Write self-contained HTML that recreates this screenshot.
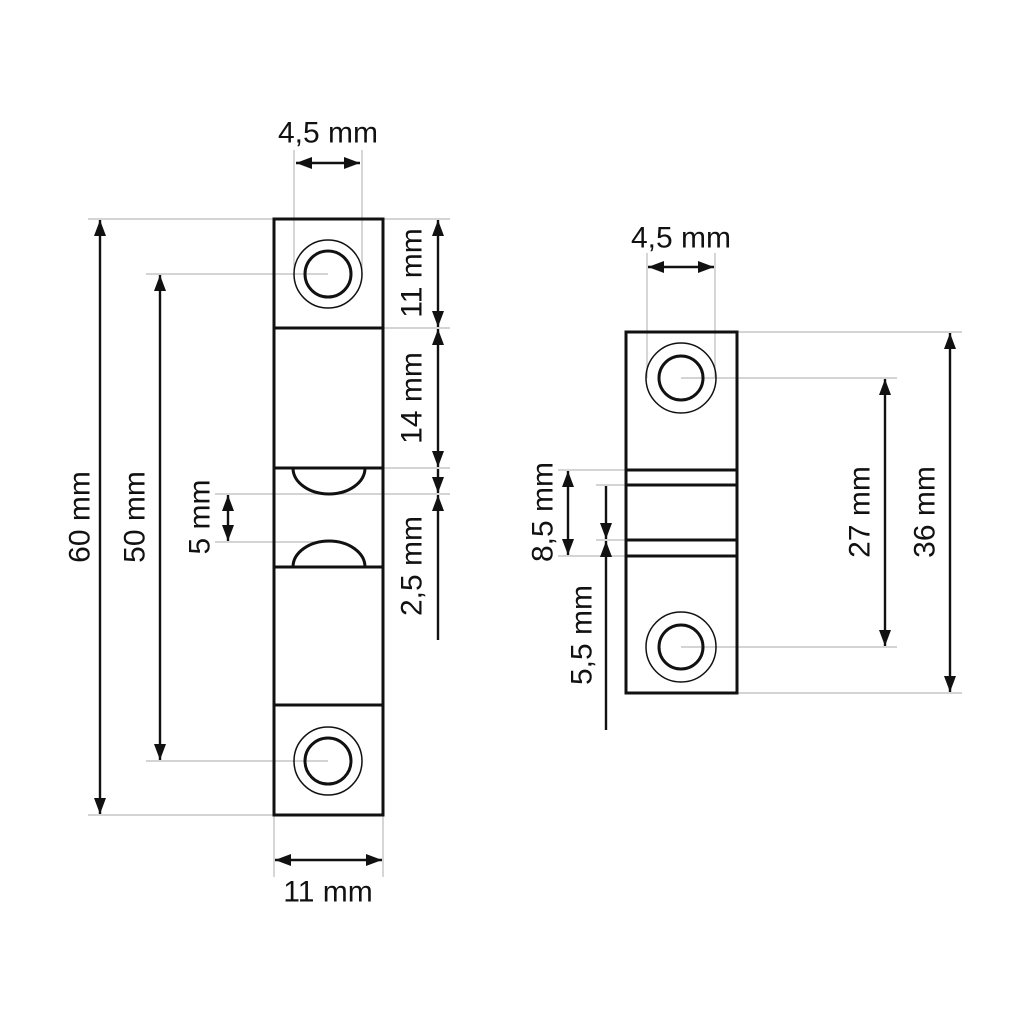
<!DOCTYPE html>
<html><head><meta charset="utf-8"><style>
html,body{margin:0;padding:0;background:#fff;}
svg{display:block;}
text{font-family:"Liberation Sans",Arial,sans-serif;font-size:30px;fill:#111;}
</style></head><body>
<svg width="1024" height="1024" viewBox="0 0 1024 1024" xmlns="http://www.w3.org/2000/svg">
<defs>
<marker id="a" viewBox="0 0 16 12" refX="16" refY="6" markerWidth="16" markerHeight="12" markerUnits="userSpaceOnUse" orient="auto-start-reverse">
<path d="M0,0 L16,6 L0,12 Z" fill="#111"/></marker>
</defs>
<g stroke="#bbb" stroke-width="1.2" fill="none">
<line x1="294" y1="150" x2="294" y2="274"/><line x1="362" y1="150" x2="362" y2="274"/>
<line x1="88" y1="219" x2="274" y2="219"/><line x1="88" y1="815" x2="274" y2="815"/>
<line x1="146" y1="274" x2="328" y2="274"/><line x1="146" y1="761" x2="328" y2="761"/>
<line x1="383" y1="219" x2="450" y2="219"/><line x1="383" y1="328" x2="450" y2="328"/>
<line x1="383" y1="468" x2="450" y2="468"/>
<line x1="215" y1="494" x2="450" y2="494"/><line x1="215" y1="542" x2="330" y2="542"/>
<line x1="274" y1="815" x2="274" y2="877"/><line x1="383" y1="815" x2="383" y2="877"/>
<line x1="647" y1="253" x2="647" y2="378"/><line x1="715" y1="253" x2="715" y2="378"/>
<line x1="737" y1="332" x2="962" y2="332"/><line x1="737" y1="693" x2="962" y2="693"/>
<line x1="681" y1="378" x2="897" y2="378"/><line x1="681" y1="647" x2="897" y2="647"/>
<line x1="558" y1="470" x2="626" y2="470"/><line x1="596" y1="485" x2="626" y2="485"/>
<line x1="596" y1="540" x2="626" y2="540"/><line x1="558" y1="556" x2="626" y2="556"/>
</g>
<g stroke="#111" stroke-width="2.4" fill="none">
<line x1="296" y1="163" x2="360" y2="163" marker-start="url(#a)" marker-end="url(#a)"/>
<line x1="100" y1="220" x2="100" y2="814" marker-start="url(#a)" marker-end="url(#a)"/>
<line x1="160" y1="275" x2="160" y2="760" marker-start="url(#a)" marker-end="url(#a)"/>
<line x1="228" y1="495" x2="228" y2="541" marker-start="url(#a)" marker-end="url(#a)"/>
<line x1="438" y1="220" x2="438" y2="327" marker-start="url(#a)" marker-end="url(#a)"/>
<line x1="438" y1="329" x2="438" y2="467" marker-start="url(#a)" marker-end="url(#a)"/>
<line x1="438" y1="469" x2="438" y2="493" marker-end="url(#a)"/>
<line x1="438" y1="640" x2="438" y2="495" marker-end="url(#a)"/>
<line x1="275" y1="860" x2="382" y2="860" marker-start="url(#a)" marker-end="url(#a)"/>
<line x1="648" y1="267" x2="714" y2="267" marker-start="url(#a)" marker-end="url(#a)"/>
<line x1="885" y1="379" x2="885" y2="646" marker-start="url(#a)" marker-end="url(#a)"/>
<line x1="950" y1="333" x2="950" y2="692" marker-start="url(#a)" marker-end="url(#a)"/>
<line x1="568" y1="471" x2="568" y2="555" marker-start="url(#a)" marker-end="url(#a)"/>
<line x1="606" y1="486" x2="606" y2="539" marker-end="url(#a)"/>
<line x1="606" y1="730" x2="606" y2="541" marker-end="url(#a)"/>
</g>
<g stroke="#111" stroke-width="3" fill="none">
<rect x="274" y="219" width="109" height="596"/>
<line x1="274" y1="328" x2="383" y2="328"/><line x1="274" y1="468" x2="383" y2="468"/>
<line x1="274" y1="567" x2="383" y2="567"/><line x1="274" y1="705" x2="383" y2="705"/>
<path d="M293,468 A36,26 0 0 0 365,468"/>
<path d="M293,567 A36,26 0 0 1 365,567"/>
<circle cx="328" cy="274" r="23"/><circle cx="328" cy="761" r="23"/>
<rect x="626" y="332" width="111" height="361"/>
<line x1="626" y1="470" x2="737" y2="470"/><line x1="626" y1="485" x2="737" y2="485"/>
<line x1="626" y1="540" x2="737" y2="540"/><line x1="626" y1="556" x2="737" y2="556"/>
<circle cx="681" cy="378" r="22"/><circle cx="681" cy="647" r="22"/>
</g>
<g stroke="#111" stroke-width="1.5" fill="none">
<circle cx="328" cy="274" r="34"/><circle cx="328" cy="761" r="34"/>
<circle cx="681" cy="378" r="35"/><circle cx="681" cy="647" r="35"/>
</g>
<g text-anchor="middle" dominant-baseline="central">
<text x="328" y="133">4,5 mm</text>
<text x="328" y="892">11 mm</text>
<text x="681" y="238">4,5 mm</text>
<text transform="translate(80,517) rotate(-90)">60 mm</text>
<text transform="translate(135,517) rotate(-90)">50 mm</text>
<text transform="translate(200,517) rotate(-90)">5 mm</text>
<text transform="translate(412,273) rotate(-90)">11 mm</text>
<text transform="translate(412,398) rotate(-90)">14 mm</text>
<text transform="translate(412,566) rotate(-90)">2,5 mm</text>
<text transform="translate(543,512) rotate(-90)">8,5 mm</text>
<text transform="translate(582,635) rotate(-90)">5,5 mm</text>
<text transform="translate(860,512) rotate(-90)">27 mm</text>
<text transform="translate(925,512) rotate(-90)">36 mm</text>
</g>
</svg>
</body></html>
